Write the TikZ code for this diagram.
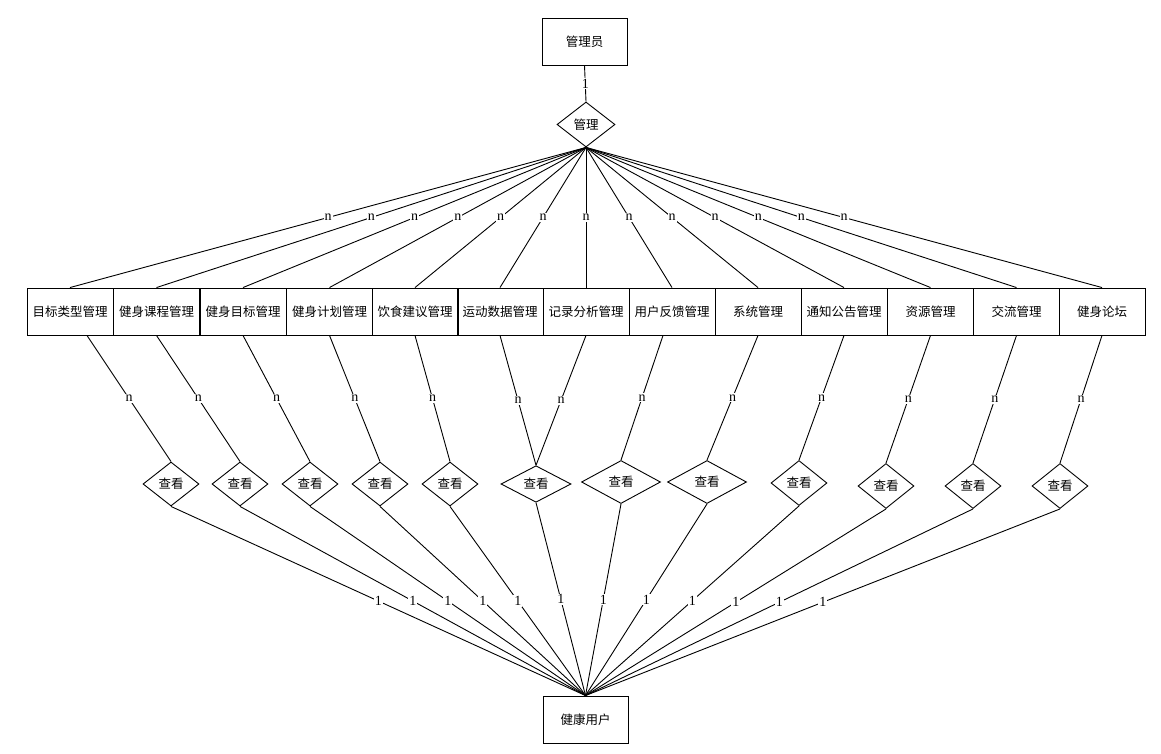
\documentclass[tikz,border=0pt]{standalone}
\usepackage{fontspec}
\setmainfont{Liberation Serif}
\newfontfamily\cjk{Noto Sans CJK SC}
\usetikzlibrary{shapes.geometric}
\tikzset{
  ent/.style={draw, rectangle, minimum width=86, minimum height=47, inner sep=0, font=\cjk\fontsize{12.5}{12.5}\selectfont},
  rel/.style={draw, diamond, inner sep=0, font=\cjk\fontsize{12.5}{12.5}\selectfont},
  card/.style={fill=white, inner sep=1, font=\fontsize{14}{14}\selectfont},
  conn/.style={draw, line width=0.9pt}
}
\begin{document}
\begin{tikzpicture}[x=1pt,y=-1pt, line width=0.9pt]
\useasboundingbox (0,0) rectangle (1161,754);
% top
\node[ent, minimum width=85] (admin) at (584.5,41.5) {管理员};
\node[rel, minimum width=58, minimum height=45] (mg) at (586,124.5) {管理};
\path[conn] (admin.south) -- node[card]{1} (mg.north);
% entity boxes
\foreach \n/\x/\t in {b1/70/目标类型管理, b2/156.5/健身课程管理, b3/243/健身目标管理, b4/329.5/健身计划管理,
  b5/415/饮食建议管理, b6/500/运动数据管理, b7/586/记录分析管理, b8/672/用户反馈管理, b9/758/系统管理,
  b10/844/通知公告管理, b11/930.5/资源管理, b12/1016.5/交流管理, b13/1102/健身论坛}
  {\node[ent] (\n) at (\x,311.5) {\t};}
% diamonds
\node[rel, minimum width=56, minimum height=44] (d1) at (171,484) {查看};
\node[rel, minimum width=56, minimum height=44] (d2) at (240,484) {查看};
\node[rel, minimum width=56, minimum height=44] (d3) at (310,484) {查看};
\node[rel, minimum width=56, minimum height=44] (d4) at (380,484) {查看};
\node[rel, minimum width=56, minimum height=44] (d5) at (450,484) {查看};
\node[rel, minimum width=70, minimum height=36] (d6) at (536,484) {查看};
\node[rel, minimum width=79, minimum height=43] (d7) at (621,482) {查看};
\node[rel, minimum width=79, minimum height=43] (d8) at (707,482) {查看};
\node[rel, minimum width=56, minimum height=45] (d9) at (799,483) {查看};
\node[rel, minimum width=56, minimum height=45] (d10) at (886,486) {查看};
\node[rel, minimum width=56, minimum height=45] (d11) at (973,486) {查看};
\node[rel, minimum width=56, minimum height=45] (d12) at (1060,486) {查看};
% user
\node[ent, minimum width=85] (user) at (585.5,719.5) {健康用户};
% admin diamond to boxes
\foreach \b in {b1,b2,b3,b4,b5,b6,b7,b8,b9,b10,b11,b12,b13}
  {\path[conn] (mg.south) -- node[card]{n} (\b.north);}
% boxes to diamonds
\path[conn] ([xshift=17]b1.south) -- node[card]{n} (d1.north);
\path[conn] (b2.south) -- node[card]{n} (d2.north);
\path[conn] (b3.south) -- node[card]{n} (d3.north);
\path[conn] (b4.south) -- node[card]{n} (d4.north);
\path[conn] (b5.south) -- node[card]{n} (d5.north);
\path[conn] (b6.south) -- node[card]{n} (d6.north);
\path[conn] (b7.south) -- node[card]{n} (d6.north);
\path[conn] ([xshift=-9]b8.south) -- node[card]{n} (d7.north);
\path[conn] (b9.south) -- node[card]{n} (d8.north);
\path[conn] (b10.south) -- node[card]{n} (d9.north);
\path[conn] (b11.south) -- node[card]{n} (d10.north);
\path[conn] (b12.south) -- node[card]{n} (d11.north);
\path[conn] (b13.south) -- node[card]{n} (d12.north);
% diamonds to user
\foreach \d in {d1,d2,d3,d4,d5,d6,d7,d8,d9,d10,d11,d12}
  {\path[conn] (\d.south) -- node[card]{1} (user.north);}
\end{tikzpicture}
\end{document}
